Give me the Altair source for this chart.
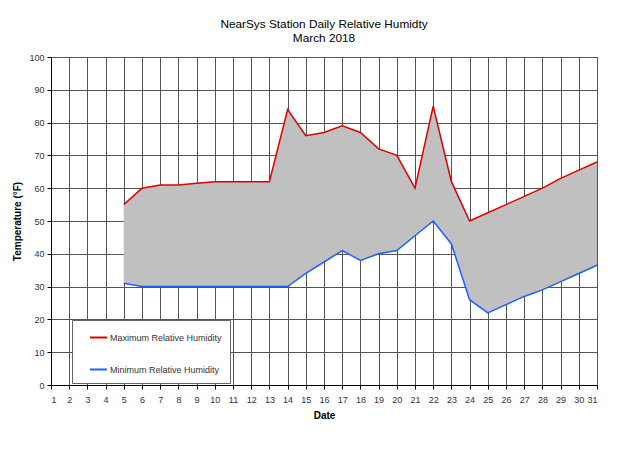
import altair as alt
import pandas as pd

days = list(range(5, 32))
max_rh = [55, 60, 61, 61, 61.5, 62, 62, 62, 62, 84, 76, 77, 79, 77, 72, 70, 60, 85, 62,
          50, 52.5, 55, 57.5, 60, 63, 65.5, 68]
min_rh = [31, 30, 30, 30, 30, 30, 30, 30, 30, 30, 34, 37.5, 41, 38, 40, 41, 45.5, 50, 43,
          26, 22, 24.5, 27, 29, 31.5, 34, 36.5]
series_names = ["Maximum Relative Humidity", "Minimum Relative Humidity"]
series_colors = ["#DD0000", "#1F5FFF"]
x_ticks = list(range(1, 32))
y_ticks = list(range(0, 101, 10))

df = pd.DataFrame({"Date": days, series_names[0]: max_rh, series_names[1]: min_rh})

x_enc = alt.X("Date:Q", scale=alt.Scale(domain=[1, 31], nice=False),
              axis=alt.Axis(values=x_ticks, title="Date", format="d"))
y_scale = alt.Scale(domain=[0, 100], nice=False)
y_axis = alt.Axis(values=y_ticks, title="Temperature (°F)")

area = alt.Chart(df).mark_area(color="#C0C0C0", opacity=1).encode(
    x=x_enc,
    y=alt.Y(f"{series_names[0]}:Q", scale=y_scale, axis=y_axis),
    y2=alt.Y2(f"{series_names[1]}:Q"),
)

lines = alt.Chart(df).transform_fold(series_names, as_=["Series", "Value"]).mark_line(
    strokeWidth=1.5
).encode(
    x=x_enc,
    y=alt.Y("Value:Q", scale=y_scale, axis=y_axis),
    color=alt.Color("Series:N", scale=alt.Scale(domain=series_names, range=series_colors),
                    legend=alt.Legend(title=None, orient="none", legendX=21, legendY=263,
                                      symbolType="stroke", symbolSize=289, symbolStrokeWidth=2,
                                      symbolOffset=9, padding=8, rowPadding=17,
                                      labelFontSize=9, labelColor="#333", labelOffset=2,
                                      fillColor="white", strokeColor="#666", zindex=2)),
    detail="Series:N",
)

chart = alt.layer(area, lines).properties(
    width=546, height=328,
    autosize=alt.AutoSizeParams(type="none"),
    padding={"left": 43, "top": 49, "right": 30, "bottom": 40},
    title=alt.Title(["NearSys Station Daily Relative Humidty", "March 2018"],
                    font="Liberation Sans", fontSize=11.8, fontWeight="normal",
                    color="#000", lineHeight=14, offset=8, anchor="middle"),
).configure(font="Liberation Sans").configure_view(stroke="#000", strokeWidth=1).configure_axis(
    grid=True, gridColor="#555", gridWidth=1, gridOpacity=1,
    domainColor="#000", tickColor="#000", tickSize=4,
    labelFont="Liberation Sans", labelFontSize=9, labelColor="#333",
    titleFont="Liberation Sans", titleFontSize=10, titleFontWeight="bold", titleColor="#000",
    zindex=1,
).configure_axisX(labelPadding=6, titlePadding=6).configure_axisY(
    labelPadding=3, titlePadding=6
)

chart.save("out.html", embed_options={"renderer": "svg", "actions": False})
